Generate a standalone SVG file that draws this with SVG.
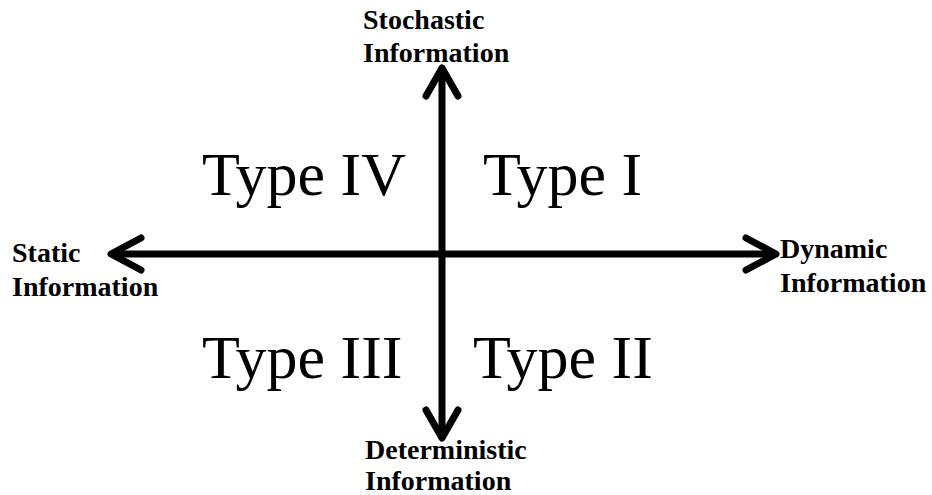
<svg xmlns="http://www.w3.org/2000/svg" width="932" height="495" viewBox="0 0 932 495">
<style>
.ax{stroke:#000;stroke-width:7;stroke-linecap:round;stroke-linejoin:round;fill:none}
.lbl{font-family:"Liberation Serif","DejaVu Serif",serif;font-weight:bold;font-size:28px;fill:#000}
.typ{font-family:"Liberation Serif","DejaVu Serif",serif;font-size:62px;fill:#000}
</style>
<rect width="932" height="495" fill="#fff"/>
<g id="connectors">
<line class="ax" x1="442" y1="70" x2="442" y2="436"/>
<line class="ax" x1="114" y1="254" x2="773" y2="254"/>
<polyline class="ax" points="426,96 442,68 458,96"/>
<polyline class="ax" points="426,410 442,438 458,410"/>
<polyline class="ax" points="141,238 111,254 141,270"/>
<polyline class="ax" points="746,238 776,254 746,270"/>
</g>
<g id="stochastic"><text class="lbl" x="363" y="29">Stochastic</text><text class="lbl" x="363" y="62">Information</text></g>
<g id="deterministic"><text class="lbl" x="365" y="459">Deterministic</text><text class="lbl" x="365" y="490">Information</text></g>
<g id="static"><text class="lbl" x="12" y="262">Static</text><text class="lbl" x="12" y="296">Information</text></g>
<g id="dynamic"><text class="lbl" x="780" y="258">Dynamic</text><text class="lbl" x="780" y="292">Information</text></g>
<g id="type4"><text class="typ" x="202" y="195">Type IV</text></g>
<g id="type1"><text class="typ" x="483" y="195">Type I</text></g>
<g id="type3"><text class="typ" x="202" y="378">Type III</text></g>
<g id="type2"><text class="typ" x="473" y="378">Type II</text></g>
</svg>
